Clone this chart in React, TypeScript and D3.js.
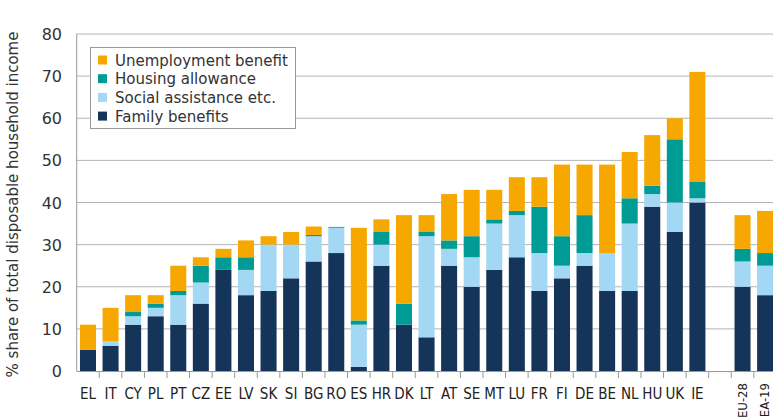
import React, { useEffect, useRef } from "react";
import * as d3 from "d3";

const countries = ["EL", "IT", "CY", "PL", "PT", "CZ", "EE", "LV", "SK", "SI", "BG", "RO", "ES", "HR", "DK", "LT", "AT", "SE", "MT", "LU", "FR", "FI", "DE", "BE", "NL", "HU", "UK", "IE", "", "EU-28", "EA-19"];

const family = [5, 6, 11, 13, 11, 16, 24, 18, 19, 22, 26, 28, 1, 25, 11, 8, 25, 20, 24, 27, 19, 22, 25, 19, 19, 39, 33, 40, 0, 20, 18];
const social = [0, 1, 2, 2, 7, 5, 0, 6, 11, 8, 6, 6, 10, 5, 0, 24, 4, 7, 11, 10, 9, 3, 3, 9, 16, 3, 7, 1, 0, 6, 7];
const housing = [0, 0, 1, 1, 1, 4, 3, 3, 0, 0, 0.3, 0.2, 1, 3, 5, 1, 2, 5, 1, 1, 11, 7, 9, 0, 6, 2, 15, 4, 0, 3, 3];
const unemployment = [6, 8, 4, 2, 6, 2, 2, 4, 2, 3, 2, 0, 22, 3, 21, 4, 11, 11, 7, 8, 7, 17, 12, 21, 11, 12, 5, 26, 0, 8, 10];

const seriesKeys = ["family", "social", "housing", "unemployment"];
const seriesNames: Record<string, string> = {
  family: "Family benefits",
  social: "Social assistance etc.",
  housing: "Housing allowance",
  unemployment: "Unemployment benefit",
};
const colors: Record<string, string> = {
  family: "#153459",
  social: "#a3d8f4",
  housing: "#009b94",
  unemployment: "#f6a800",
};
const yTicks = [0, 10, 20, 30, 40, 50, 60, 70, 80];

const width = 773;
const height = 419;
const narrow = "'DejaVu Sans Condensed', sans-serif";

export default function App() {
  const ref: any = useRef();

  useEffect(() => {
    const svg = d3.select(ref.current);
    svg.selectAll("*").remove();

    const left = 76.7;
    const right = 776.4;
    const top = 34;
    const bottom = 371;

    const data = countries.map((c, i) => ({
      c,
      family: family[i],
      social: social[i],
      housing: housing[i],
      unemployment: unemployment[i],
    }));

    const key = (c: string, i: number) => c || "blank" + i;
    const x = d3.scaleBand().domain(countries.map(key))
      .range([left, right]).paddingInner(0.29).paddingOuter(0.145);
    const y = d3.scaleLinear().domain([0, 80]).range([bottom, top]);

    // grid
    svg.append("g").selectAll("line").data(yTicks.slice(1)).join("line")
      .attr("x1", left).attr("x2", width)
      .attr("y1", (d) => y(d)).attr("y2", (d) => y(d))
      .attr("stroke", "#b4b4b4").attr("stroke-width", 1);

    // y tick labels
    svg.append("g").selectAll("text").data(yTicks).join("text")
      .attr("x", 62).attr("y", (d) => y(d) + 6)
      .attr("text-anchor", "end")
      .attr("font-family", "'DejaVu Sans', sans-serif").attr("font-size", 16).attr("fill", "#333")
      .text((d) => d);

    // bars
    const stack = d3.stack<any>().keys(seriesKeys)(data);
    svg.append("g").selectAll("g").data(stack).join("g")
      .attr("fill", (s) => colors[s.key])
      .selectAll("rect").data((s) => s).join("rect")
      .attr("x", (d: any, i) => x(key(d.data.c, i)) as number)
      .attr("width", x.bandwidth())
      .attr("y", (d) => y(d[1]))
      .attr("height", (d) => Math.max(0, y(d[0]) - y(d[1])));

    // axes
    svg.append("line").attr("x1", left).attr("x2", left).attr("y1", top).attr("y2", bottom)
      .attr("stroke", "#999").attr("stroke-width", 1);
    svg.append("line").attr("x1", left).attr("x2", width).attr("y1", bottom + 0.5).attr("y2", bottom + 0.5)
      .attr("stroke", "#999").attr("stroke-width", 1.2);
    const step = x.step();
    const gap = (step - x.bandwidth()) / 2;
    svg.append("g").selectAll("line").data(countries.slice(0, -1)).join("line")
      .attr("x1", (c, i) => (x(key(c, i)) as number) + x.bandwidth() + gap)
      .attr("x2", (c, i) => (x(key(c, i)) as number) + x.bandwidth() + gap)
      .attr("y1", bottom).attr("y2", bottom + 7)
      .attr("stroke", "#999").attr("stroke-width", 1);

    // x labels
    const labels = svg.append("g");
    countries.forEach((c, i) => {
      if (!c) return;
      const cx = (x(key(c, i)) as number) + x.bandwidth() / 2;
      if (c.includes("-")) {
        labels.append("text")
          .attr("transform", `translate(${cx + 4},${bottom + 12}) rotate(-90)`)
          .attr("text-anchor", "end")
          .attr("font-family", narrow).attr("font-size", 13).attr("fill", "#222")
          .text(c);
      } else {
        labels.append("text")
          .attr("x", cx).attr("y", bottom + 28)
          .attr("text-anchor", "middle")
          .attr("font-family", narrow).attr("font-size", 15).attr("fill", "#222")
          .text(c);
      }
    });

    // y title
    svg.append("text")
      .attr("transform", `translate(18,${(top + bottom) / 2 + 2}) rotate(-90)`)
      .attr("text-anchor", "middle")
      .attr("font-family", "'DejaVu Sans', sans-serif").attr("font-size", 15).attr("fill", "#333")
      .text("% share of total disposable household income");

    // legend
    const lg = svg.append("g");
    lg.append("rect").attr("x", 90.5).attr("y", 47.5).attr("width", 205).attr("height", 81)
      .attr("fill", "#fff").attr("stroke", "#999");
    const legendOrder = ["unemployment", "housing", "social", "family"];
    legendOrder.forEach((k, i) => {
      const cy = 60 + i * 18.7;
      lg.append("rect").attr("x", 98).attr("y", cy - 4.5).attr("width", 9).attr("height", 9).attr("fill", colors[k]);
      lg.append("text").attr("x", 115).attr("y", cy + 5.5)
        .attr("font-family", "'DejaVu Sans', sans-serif").attr("font-size", 15).attr("fill", "#333")
        .text(seriesNames[k]);
    });
  }, []);

  return (
    <svg ref={ref} width={width} height={height}
      style={{ position: "absolute", left: 0, top: 0, background: "#fff" }} />
  );
}
